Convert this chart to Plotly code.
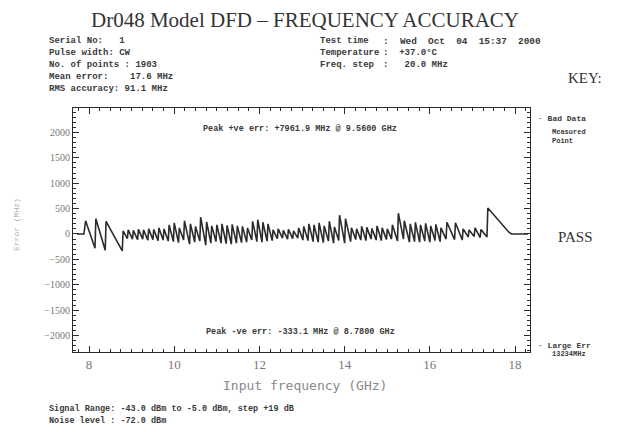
import plotly.graph_objects as go

# ---- data ----
# each tooth of the error trace: start frequency (GHz), top error, bottom error (MHz)
tooth_ghz = [7.92, 8.16, 8.40, 8.80, 8.92, 9.04, 9.16, 9.28, 9.40, 9.52, 9.64, 9.76, 9.88, 10.00,
             10.12, 10.24, 10.38, 10.50, 10.62, 10.76, 10.88, 11.00, 11.12, 11.24, 11.36, 11.48,
             11.60, 11.72, 11.84, 11.96, 12.08, 12.20, 12.32, 12.44, 12.56, 12.68, 12.80, 12.92,
             13.04, 13.16, 13.28, 13.40, 13.52, 13.64, 13.76, 13.88, 14.02, 14.16, 14.28, 14.40,
             14.52, 14.64, 14.76, 14.88, 15.00, 15.12, 15.26, 15.40, 15.54, 15.66, 15.78, 15.90,
             16.02, 16.14, 16.26, 16.40, 16.60, 16.78, 16.92, 17.06, 17.20, 17.36]
tooth_top = [260, 300, 250, 60, 80, 70, 90, 80, 100, 90, 120, 100, 180, 220,
             120, 260, 200, 150, 330, 240, 160, 180, 200, 170, 190, 160,
             150, 120, 250, 280, 230, 200, 80, 100, 70, 90, 60, 120,
             150, 200, 180, 220, 160, 250, 140, 370, 300, 120, 100, 150,
             130, 110, 160, 120, 100, 180, 410, 260, 200, 230, 180, 210,
             160, 190, 120, 230, 220, 100, 80, 120, 90, 510]
tooth_bottom = [-280, -320, -333, -90, -100, -110, -100, -120, -110, -130, -120, -140, -150, -170,
                -120, -200, -160, -140, -220, -180, -150, -180, -190, -200, -180, -170,
                -160, -120, -150, -160, -140, -130, -90, -80, -100, -90, -80, -120,
                -130, -150, -160, -170, -140, -180, -130, -180, -150, -110, -120, -130,
                -100, -120, -130, -110, -100, -140, -100, -160, -150, -160, -140, -160,
                -130, -150, -100, -110, -120, -60, -50, -70, -60, 30]
lead_ghz = [7.72, 7.88]
tail_ghz = [17.88, 17.92, 18.30]

xs = list(lead_ghz)
ys = [0] * len(lead_ghz)
ends = tooth_ghz[1:] + [tail_ghz[0]]
for f, t, b, nxt in zip(tooth_ghz, tooth_top, tooth_bottom, ends):
    xs += [f, nxt - 0.02]
    ys += [t, b]
xs += tail_ghz[1:]
ys += [0] * (len(tail_ghz) - 1)

INK = "#2b2b2b"
TXT = "#3a3a3a"
MONO = "Liberation Mono"
SERIF = "Liberation Serif"

# the page body adds an 8px offset; the figure is sized to fit the window
OFF = 8
W0, W1, H0, H1 = 73 - OFF, 530 - OFF, 108 - OFF, 352 - OFF
FW, FH = 619 - OFF, 432 - OFF

fig = go.Figure()
fig.add_trace(go.Scatter(x=xs, y=ys, mode="lines",
                         line=dict(color=INK, width=1.6), hoverinfo="skip"))

fig.update_layout(
    width=FW, height=FH,
    margin=dict(l=W0, r=FW - W1, t=H0, b=FH - H1, pad=0),
    paper_bgcolor="white", plot_bgcolor="white",
    showlegend=False,
    xaxis=dict(range=[7.624, 18.35], tickvals=[8, 10, 12, 14, 16, 18],
               ticks="inside", ticklen=6, tickcolor=INK, showgrid=False, zeroline=False,
               showline=True, linecolor=INK, linewidth=1.2, mirror="ticks",
               minor=dict(dtick=0.25, ticks="inside", ticklen=3, tickcolor=INK),
               tickfont=dict(family=SERIF, size=13, color="#777")),
    yaxis=dict(range=[-2323, 2480], tickvals=[-2000, -1500, -1000, -500, 0, 500, 1000, 1500, 2000],
               ticks="inside", ticklen=6, tickcolor=INK, showgrid=False, zeroline=False,
               showline=True, linecolor=INK, linewidth=1.2, mirror="ticks",
               minor=dict(dtick=100, ticks="inside", ticklen=3, tickcolor=INK),
               tickfont=dict(family=SERIF, size=10, color="#777")),
)

anns = []
def px(x):
    return (x - OFF - W0) / (W1 - W0)
def py(y):
    return (H1 - (y - OFF)) / (H1 - H0)
def txt(x, y, s, size=8, family=MONO, color=TXT, xanchor="left", **kw):
    anns.append(dict(x=px(x), y=py(y), xref="paper", yref="paper", text=s, showarrow=False,
                     xanchor=xanchor, yanchor="middle",
                     font=dict(family=family, size=size, color=color), **kw))

txt(305, 20, "Dr048 Model DFD \u2013 FREQUENCY ACCURACY", size=21, family=SERIF, color="#333", xanchor="center")
left = ["Serial No:   1", "Pulse width: CW", "No. of points : 1903",
        "Mean error:    17.6 MHz", "RMS accuracy: 91.1 MHz"]
for i, s in enumerate(left):
    txt(47, 41 + 12 * i, "<b>" + s + "</b>", size=9)
right_lbl = ["Test time", "Temperature", "Freq. step"]
right_val = [":  Wed  Oct  04  15:37  2000", ":  +37.0\u00b0C", ":   20.0 MHz"]
for i, (a, b) in enumerate(zip(right_lbl, right_val)):
    txt(318, 41 + 12 * i, "<b>" + a + "</b>", size=9)
    txt(381, 41 + 12 * i, "<b>" + b + "</b>", size=9.4 if i == 0 else 9)
txt(566, 78, "KEY:", size=15, family=SERIF, color="#333")

txt(300, 129, "<b>Peak +ve err: +7961.9 MHz @ 9.5600 GHz</b>", size=8.5, xanchor="center")
txt(300, 332, "<b>Peak -ve err: -333.1 MHz @ 8.7800 GHz</b>", size=8.5, xanchor="center")

txt(536, 118, "<b>\u00b7 Bad Data</b>", size=8)
txt(550, 132, "<b>Measured</b>", size=7)
txt(550, 141, "<b>Point</b>", size=7)
txt(556, 237, "PASS", size=15, family=SERIF, color="#333")
txt(536, 345, "<b>\u00b7 Large Err</b>", size=8)
txt(550, 354, "<b>13234MHz</b>", size=7)

txt(305, 385, "Input frequency (GHz)", size=13, family="DejaVu Sans Mono", color="#888", xanchor="center")
txt(47, 409, "<b>Signal Range: -43.0 dBm to -5.0 dBm, step +19 dB</b>", size=8.5)
txt(47, 421, "<b>Noise level : -72.0 dBm</b>", size=8.5)
txt(16, 225, "Error (MHz)", size=8, color="#aaa", xanchor="center", textangle=-90)

fig.update_layout(annotations=anns)
fig.write_html("out.html")
